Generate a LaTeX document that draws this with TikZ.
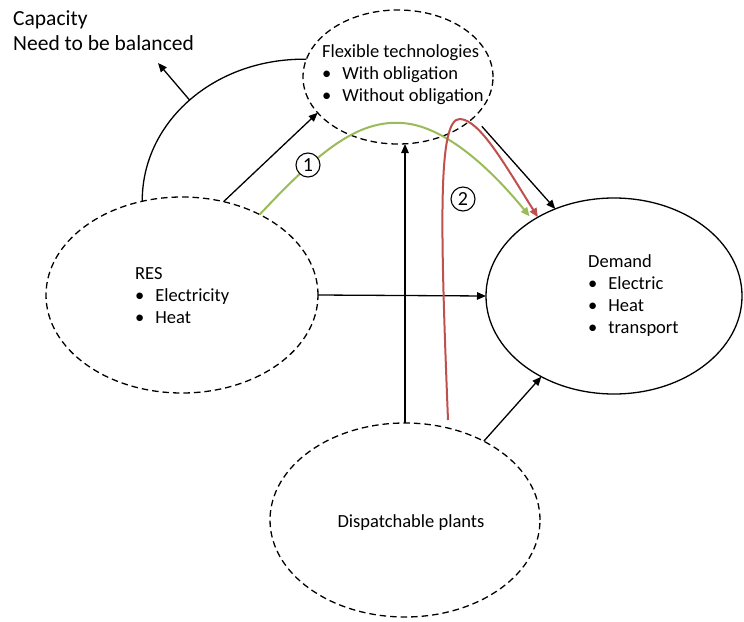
\documentclass[tikz,border=0pt]{standalone}
\usepackage{fontspec}
\setmainfont{Carlito}
\usetikzlibrary{shapes.geometric,arrows.meta}
\definecolor{flowgreen}{HTML}{9BBB59}
\definecolor{flowred}{HTML}{C0504D}
\begin{document}
\begin{tikzpicture}[x=1pt, y=-1pt,
  zone/.style={ellipse, draw, line width=1.3pt, dash pattern=on 6.5pt off 4pt, inner sep=0pt, outer sep=0pt},
  solidzone/.style={ellipse, draw, line width=1.3pt, inner sep=0pt, outer sep=0pt},
  link/.style={line width=1.3pt, -{Triangle[length=9pt,width=7.5pt]}},
  flow/.style={line width=2pt, -{Triangle[length=9pt,width=7.5pt]}},
  lbl/.style={font=\fontsize{18.5}{22}\selectfont, inner sep=0pt},
  num/.style={circle, draw, fill=white, line width=1.1pt, minimum size=24pt, inner sep=0pt, font=\fontsize{20}{20}\selectfont}]
  \fill[white] (0,0) rectangle (744,621);
  \path[use as bounding box] (0,0) rectangle (744,621);

  % the four areas
  \node[zone, minimum width=190pt, minimum height=134pt] (flex) at (398,77) {};
  \node[zone, minimum width=272pt, minimum height=196pt] (res) at (182,295) {};
  \node[solidzone, minimum width=256pt, minimum height=196pt] (dem) at (614,296) {};
  \node[zone, minimum width=270pt, minimum height=194pt] (disp) at (405,520) {};

  % their contents
  \node[lbl, anchor=base west] (flextxt) at (322,57) {\begin{tabular}[t]{@{}l@{\hspace{11pt}}l@{}}\multicolumn{2}{@{}l@{}}{Flexible technologies}\\\textbullet & With obligation\\\textbullet & Without obligation\end{tabular}};
  \node[lbl, anchor=base west] (restxt) at (135,279) {\begin{tabular}[t]{@{}l@{\hspace{11pt}}l@{}}\multicolumn{2}{@{}l@{}}{RES}\\\textbullet & Electricity\\\textbullet & Heat\end{tabular}};
  \node[lbl, anchor=base west] (demtxt) at (588,267) {\begin{tabular}[t]{@{}l@{\hspace{11pt}}l@{}}\multicolumn{2}{@{}l@{}}{Demand}\\\textbullet & Electric\\\textbullet & Heat\\\textbullet & transport\end{tabular}};
  \node[lbl, anchor=base] (disptxt) at (411,527) {Dispatchable plants};

  % capacity note
  \node[inner sep=0pt, anchor=base west, font=\fontsize{21.5}{25}\selectfont] (cap) at (13,25) {\begin{tabular}[t]{@{}l@{}}Capacity\\Need to be balanced\end{tabular}};
  \coordinate (captip) at (158,63);
  \draw[line width=1.3pt] (res.113) .. controls (142,122) and (214,58) .. (flex.169) coordinate[pos=0.5] (capmid);
  \draw[link] (capmid) -- (captip);

  % black connectors
  \draw[link] (res.66) -- (flex.204);
  \draw[link] (res.east) -- (dem.west);
  \draw[link] (disp.north) -- (disp.north |- flex.south);
  \draw[link] (disp.45) -- (dem.228);
  \draw[link, shorten <=12pt] (flex.332) -- (dem.124);

  % path 1 (green) and path 2 (red)
  \draw[flow, flowgreen, shorten >=5pt] (res.46) .. controls (320,150) and (358,120) .. (402,123)
        .. controls (450,126) and (500,180) .. (dem.137);
  \coordinate (redfoot) at (448,420);
  \draw[flow, flowred] (redfoot) .. controls (440,220) and (438,118) .. (460,119)
        .. controls (480,120) and (505,165) .. (dem.134);

  \node[num] (one) at (308,165) {1};
  \node[num] (two) at (463,199) {2};
\end{tikzpicture}
\end{document}
